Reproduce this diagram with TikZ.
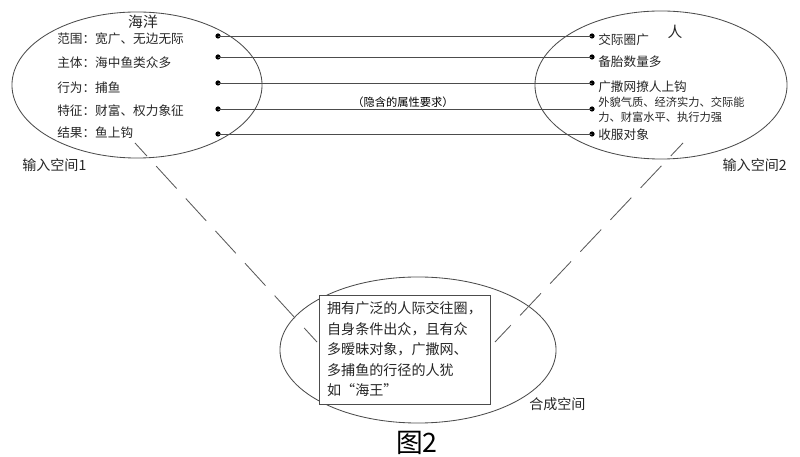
\documentclass[tikz,border=0pt]{standalone}
\usepackage{fontspec}
\newfontfamily\cjk{Noto Sans CJK SC}
\usetikzlibrary{shapes.geometric}

\begin{document}
\begin{tikzpicture}[x=0.025cm, y=-0.025cm,
    space/.style={ellipse, draw=black!70, line width=0.6pt, inner sep=0pt},
    dot/.style={circle, fill=black, inner sep=0pt, minimum size=0.13cm},
    item/.style={anchor=west, inner sep=0pt, text=black!85, font=\cjk\fontsize{9}{11}\selectfont},
    title/.style={inner sep=0pt, text=black!85, font=\cjk\fontsize{10.5}{12}\selectfont},
    tag/.style={inner sep=0pt, text=black!85, font=\cjk\fontsize{10}{12}\selectfont},
    link/.style={draw=black!70, line width=0.6pt},
    guide/.style={draw=black!65, line width=0.6pt, dash pattern=on 21.6pt off 9.6pt, dash phase=8.9pt}]
    \useasboundingbox (0,0) rectangle (800,457);

    % Define the three spaces (two input ellipses and the blend)
    \node[space, minimum width=6.25cm, minimum height=3.65cm] (ocean) at (137,85) {};
    \node[space, minimum width=6.3cm, minimum height=3.7cm] (person) at (661,85) {};
    \node[space, minimum width=6.9cm, minimum height=3.65cm] (blend) at (418,350) {};

    % Titles of the input spaces
    \node[title] (oceantitle) at (143,22) {海洋};
    \node[title] (persontitle) at (675,32) {人};

    % Attributes of input space 1
    \node[item] (o1) at (57,39) {范围：宽广、无边无际};
    \node[item] (o2) at (57,63) {主体：海中鱼类众多};
    \node[item] (o3) at (57,88) {行为：捕鱼};
    \node[item] (o4) at (57,111) {特征：财富、权力象征};
    \node[item] (o5) at (57,133) {结果：鱼上钩};

    % Attributes of input space 2
    \node[item] (p1) at (598,40) {交际圈广};
    \node[item] (p2) at (598,62) {备胎数量多};
    \node[item] (p3) at (598,87) {广撒网撩人上钩};
    \node[item, align=left, font=\cjk\fontsize{8}{10.6}\selectfont] (p4) at (598,110) {外貌气质、经济实力、交际能\\力、财富水平、执行力强};
    \node[item] (p5) at (598,135) {收服对象};

    % Dots at both ends of the mappings
    \node[dot] (l1) at (218,36) {};
    \node[dot] (l2) at (218,57) {};
    \node[dot] (l3) at (218,83) {};
    \node[dot] (l4) at (218,109) {};
    \node[dot] (l5) at (218,134) {};
    \node[dot] (r1) at (592,36) {};
    \node[dot] (r2) at (592,57) {};
    \node[dot] (r3) at (592,83) {};
    \node[dot] (r4) at (592,109) {};
    \node[dot] (r5) at (592,134) {};

    % Draw the cross-space mappings
    \foreach \i in {1,...,5}
        \draw[link] (l\i.center) -- (r\i.center);

    \node[inner sep=1pt, fill=white, text=black, font=\cjk\fontsize{8}{10}\selectfont] (hidden) at (403,102) {（隐含的属性要求）};

    % Space labels
    \node[tag, anchor=west] (in1) at (22,165) {输入空间1};
    \node[tag, anchor=east] (in2) at (787,165) {输入空间2};
    \node[tag, anchor=west] (blendname) at (529,404) {合成空间};

    % Blended space content
    \node[draw=black!70, line width=0.6pt, fill=white, minimum width=4.275cm, minimum height=2.725cm,
          align=left, inner sep=0pt, text=black!85, font=\cjk\fontsize{10}{14.6}\selectfont] (result) at (404.5,349.5)
        {拥有广泛的人际交往圈，\\自身条件出众，且有众\\多暧昧对象，广撒网、\\多捕鱼的行径的人犹\\如“海王”};

    % Projection lines to the blend
    \coordinate (a1) at (135,143);
    \coordinate (a2) at (317,342);
    \coordinate (b1) at (683,143);
    \coordinate (b2) at (495,342);
    \draw[guide] (a1) -- (a2);
    \draw[guide] (b1) -- (b2);

    % Caption
    \node[inner sep=0pt, text=black, font=\cjk\fontsize{19}{22}\selectfont] (caption) at (417,443) {图2};
\end{tikzpicture}
\end{document}
